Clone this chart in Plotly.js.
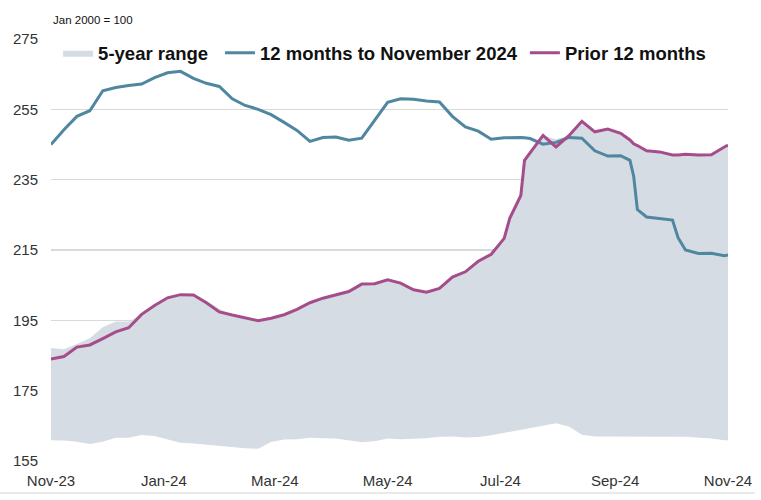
<!DOCTYPE html>
<html>
<head>
<meta charset="utf-8">
<script src="https://cdn.plot.ly/plotly-3.0.1.min.js"></script>
<style>
  html, body { margin: 0; padding: 0; background: #ffffff; }
  #chart { width: 761px; height: 500px; }
</style>
</head>
<body>
<div id="chart"></div>
<script>
// Observations, Nov 2023 - Nov 2024 (Jan 2000 = 100)
const dates = [
  "2023-11-01","2023-11-08","2023-11-15","2023-11-22","2023-11-29",
  "2023-12-06","2023-12-13","2023-12-20","2023-12-27",
  "2024-01-03","2024-01-10","2024-01-17","2024-01-24","2024-01-31",
  "2024-02-07","2024-02-14","2024-02-21","2024-02-28",
  "2024-03-06","2024-03-13","2024-03-20","2024-03-27",
  "2024-04-03","2024-04-10","2024-04-17","2024-04-24",
  "2024-05-01","2024-05-08","2024-05-15","2024-05-22","2024-05-29",
  "2024-06-05","2024-06-12","2024-06-19","2024-06-26",
  "2024-07-03","2024-07-06","2024-07-10","2024-07-12","2024-07-14","2024-07-17","2024-07-24","2024-07-31",
  "2024-08-07","2024-08-14","2024-08-21","2024-08-28",
  "2024-09-04","2024-09-09","2024-09-11","2024-09-13","2024-09-18","2024-09-25",
  "2024-10-02","2024-10-05","2024-10-09","2024-10-16","2024-10-23","2024-10-30",
  "2024-11-01"
];

const rangeLow = [
  160.9,160.8,160.5,159.8,160.5,
  161.6,161.6,162.4,162.1,
  161.2,160.2,160.0,159.7,159.2,
  159.0,158.6,158.5,160.4,
  161.1,161.2,161.6,161.5,
  161.4,160.8,160.3,160.6,
  161.4,161.2,161.4,161.5,161.9,
  162.0,161.7,161.8,162.3,
  163.0,163.3,163.6,163.8,164.0,164.4,165.0,165.7,
  164.8,162.5,162.0,162.0,
  162.0,161.8,161.8,161.8,161.8,161.9,
  161.9,161.9,161.9,161.7,161.4,160.9,
  160.9
];

const rangeHigh = [
  187.1,186.8,188.3,189.9,193.0,
  194.7,194.7,196.7,199.2,
  201.4,202.3,202.4,200.6,198.3,
  196.5,195.7,194.9,195.6,
  196.6,198.1,200.0,201.3,
  202.2,203.2,205.3,205.4,
  206.5,205.6,203.7,203.0,204.1,
  207.3,208.8,211.8,213.8,
  218.3,224.0,228.3,230.5,240.5,242.6,247.6,246.5,
  247.5,251.6,248.6,249.4,
  248.2,246.3,245.2,244.7,243.2,242.9,
  242.0,242.0,242.2,242.0,242.1,244.3,
  244.8
];

const last12 = [
  245.0,249.2,253.0,254.6,260.3,
  261.2,261.8,262.2,264.0,
  265.4,265.8,263.8,262.4,261.5,
  258.0,256.1,255.0,253.5,
  251.3,249.0,245.9,247.0,
  247.1,246.2,246.8,252.0,
  257.0,258.0,257.9,257.4,257.1,
  253.0,250.0,248.8,246.5,
  246.9,247.0,247.0,247.0,246.9,246.7,245.1,245.6,
  247.0,246.8,243.2,241.7,
  241.8,240.5,236.0,226.5,224.4,224.0,
  223.5,218.5,215.0,214.0,214.1,213.4,
  213.6
];

const prior12 = [
  184.0,184.7,187.4,188.0,189.8,
  191.7,192.9,196.7,199.2,
  201.4,202.3,202.2,200.0,197.4,
  196.5,195.7,194.9,195.6,
  196.6,198.1,200.0,201.3,
  202.2,203.2,205.3,205.4,
  206.5,205.6,203.7,203.0,204.1,
  207.3,208.8,211.8,213.8,
  218.3,224.0,228.3,230.5,240.5,242.6,247.6,244.3,
  247.5,251.6,248.6,249.4,
  248.2,246.3,245.2,244.7,243.2,242.9,
  242.0,242.0,242.2,242.0,242.1,244.3,
  244.8
];

const yTicks = [155, 175, 195, 215, 235, 255, 275];
const seriesNames = ["5-year range", "12 months to November 2024", "Prior 12 months"];
const unitNote = "Jan 2000 = 100";

const FONT = "Liberation Sans, Arial, Helvetica, sans-serif";

const traces = [
  {
    type: "scatter",
    mode: "lines",
    name: seriesNames[0],
    legend: "legend",
    x: dates.concat(dates.slice().reverse()),
    y: rangeHigh.concat(rangeLow.slice().reverse()),
    fill: "toself",
    fillcolor: "#d6dce4",
    line: { width: 0, color: "#d6dce4" },
    hoverinfo: "skip"
  },
  {
    type: "scatter",
    mode: "lines",
    name: seriesNames[1],
    legend: "legend2",
    x: dates,
    y: last12,
    line: { color: "#4f87a0", width: 3 }
  },
  {
    type: "scatter",
    mode: "lines",
    name: seriesNames[2],
    legend: "legend3",
    x: dates,
    y: prior12,
    line: { color: "#a54d8b", width: 3 }
  }
];

const legendFont = { family: FONT, size: 18.5, color: "#111111", weight: "bold" };
function legendAt(xp) {
  return {
    orientation: "h",
    x: xp,
    xanchor: "left",
    y: 0.966,
    yanchor: "middle",
    bgcolor: "rgba(0,0,0,0)",
    font: legendFont
  };
}

const layout = {
  width: 761,
  height: 500,
  margin: { l: 51, r: 33, t: 38.5, b: 39, pad: 0 },
  paper_bgcolor: "#ffffff",
  plot_bgcolor: "#ffffff",
  font: { family: FONT, color: "#333333" },
  showlegend: true,
  legend: legendAt(0.0105),
  legend2: legendAt(0.2496),
  legend3: legendAt(0.700),
  xaxis: {
    type: "date",
    range: ["2023-11-01", "2024-11-01"],
    tick0: "2023-11-01",
    dtick: "M2",
    tickformat: "%b-%y",
    showgrid: false,
    zeroline: false,
    showline: false,
    ticks: "",
    ticklabelstandoff: 9,
    tickfont: { family: FONT, size: 15, color: "#333333" },
    fixedrange: true
  },
  yaxis: {
    range: [155, 275],
    tickvals: yTicks,
    showgrid: true,
    gridcolor: "#d9d9d9",
    gridwidth: 1.5,
    zeroline: false,
    showline: false,
    ticks: "",
    ticklabelstandoff: 12,
    tickfont: { family: FONT, size: 15, color: "#333333" },
    fixedrange: true
  },
  annotations: [
    {
      text: unitNote,
      xref: "paper", yref: "paper",
      x: 0.0, xanchor: "left",
      y: 1.046, yanchor: "middle",
      showarrow: false,
      font: { family: FONT, size: 11.5, color: "#111111" }
    }
  ],
  shapes: [
    {
      type: "line", xref: "paper", yref: "paper",
      x0: -0.0753, x1: 1.04, y0: -0.0757, y1: -0.0757,
      line: { color: "#e3e3e3", width: 1.5 }
    }
  ]
};

Plotly.newPlot("chart", traces, layout, { displayModeBar: false, staticPlot: true });
</script>
</body>
</html>
